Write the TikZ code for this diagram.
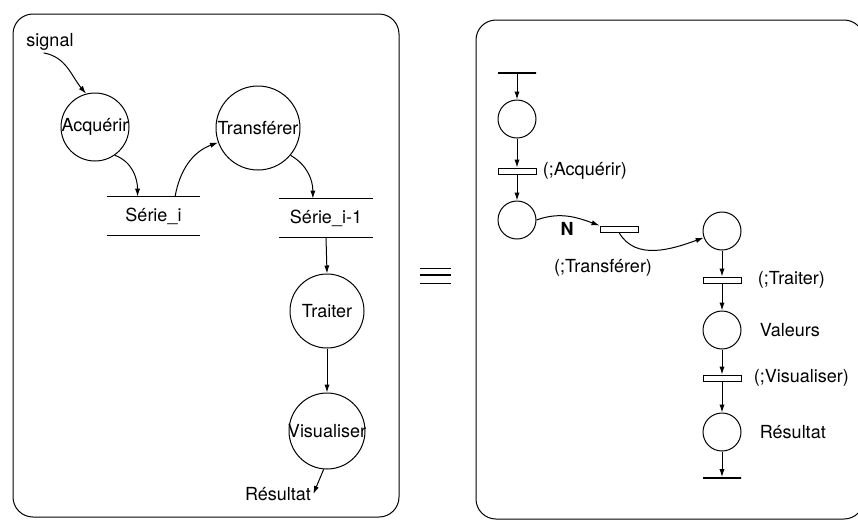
\documentclass[tikz,border=0pt]{standalone}
\usepackage{fontspec}
\setmainfont{TeX Gyre Heros}
\usetikzlibrary{positioning,calc,arrows.meta}

\begin{document}
\begin{tikzpicture}[
  x=0.5pt, y=0.5pt,
  every node/.style={font=\fontsize{9}{10}\selectfont},
  panel/.style={draw, line width=0.5pt, rounded corners=10pt},
  procbox/.style={draw, circle, line width=0.5pt, inner sep=-1.5pt},
  storebox/.style={minimum width=46.5pt, minimum height=19pt, inner sep=0pt},
  storeline/.style={line width=0.6pt},
  placebox/.style={draw, circle, line width=0.5pt, minimum size=19pt, inner sep=0pt},
  transbox/.style={draw, rectangle, line width=0.5pt, minimum width=19pt, minimum height=3pt, inner sep=0pt},
  barbox/.style={draw, rectangle, line width=0.9pt, minimum width=19pt, minimum height=0pt, inner sep=0pt},
  lbl/.style={inner sep=1pt},
  flow/.style={-{Latex[length=4pt,width=2.6pt]}, line width=0.5pt},
]
\clip (0,0) rectangle (858,-521);

% Left panel: data flow diagram
\draw[panel] (13,-14) rectangle (399,-517);

\node[lbl] (signal) at (50,-42) {signal};
\node[procbox, minimum size=34pt] (acq) at (95,-127) {Acquérir};
\node[procbox, minimum size=42pt] (transf) at (258,-128) {Transférer};
\node[storebox] (seriei) at (153.5,-216) {Série\_i};
\node[storebox] (serieii) at (326,-218) {Série\_i-1};
\node[procbox, minimum size=37pt] (trai) at (327,-311) {Traiter};
\node[procbox, minimum size=38pt] (visu) at (327,-431) {Visualiser};
\node[lbl] (res) at (278,-494) {Résultat};

% Stores: two horizontal lines
\foreach \s in {seriei, serieii} {
  \draw[storeline] (\s.north west) -- (\s.north east);
  \draw[storeline] (\s.south west) -- (\s.south east);
}

% Flows
\draw[flow] (signal.-120) to[out=-10, in=130] (acq.105);
\draw[flow] (acq.-55) to[out=-20, in=90] ($(seriei.north west)!0.33!(seriei.north east)$);
\draw[flow] ($(seriei.north west)!0.73!(seriei.north east)$) to[out=80, in=200] (transf.200);
\draw[flow] (transf.-40) to[out=-30, in=90] ($(serieii.north west)!0.36!(serieii.north east)$);
\draw[flow] (serieii.south) -- (trai.north);
\draw[flow] (trai) -- (visu);
\draw[flow] (visu.-95) -- (res.east);

% Equivalence sign
\foreach \y/\w in {268/0.4pt, 275/0.7pt, 283/0.4pt}
  \draw[line width=\w] (420,-\y) -- (451,-\y);

% Right panel: Petri net
\draw[panel] (476,-20) rectangle (864,-519);

\node[barbox] (src) at (517,-73) {};
\node[placebox] (p1) at (517,-119) {};
\node[transbox] (t1) at (517,-171) {};
\node[placebox] (p2) at (517,-220) {};
\node[transbox] (t2) at (619,-229) {};
\node[placebox] (p3) at (722,-231) {};
\node[transbox] (t3) at (722,-280) {};
\node[placebox] (p4) at (722,-330) {};
\node[transbox] (t4) at (722,-378) {};
\node[placebox] (p5) at (722,-432) {};
\node[barbox] (sink) at (722,-478) {};

% Labels
\node[lbl, right=2pt of t1] (lt1) {(;Acquérir)};
\node[lbl] (lt2) at (603,-268) {(;Transférer)};
\node[lbl, right=7pt of t3] (lt3) {(;Traiter)};
\node[lbl, right=8pt of p4] (lp4) {Valeurs};
\node[lbl, right=5pt of t4] (lt4) {(;Visualiser)};
\node[lbl, right=8pt of p5] (lp5) {Résultat};
\node[lbl, font=\fontsize{9}{10}\selectfont\bfseries] (mult) at (567,-229) {N};

% Arcs
\foreach \a/\b in {src/p1, p1/t1, t1/p2, p3/t3, t3/p4, p4/t4, t4/p5, p5/sink}
  \draw[flow] (\a) -- (\b);
\draw[flow] (p2.east) to[out=20, in=160] (t2.north west);
\draw[flow] (t2.south) to[out=-60, in=200] (p3.200);

\end{tikzpicture}
\end{document}
